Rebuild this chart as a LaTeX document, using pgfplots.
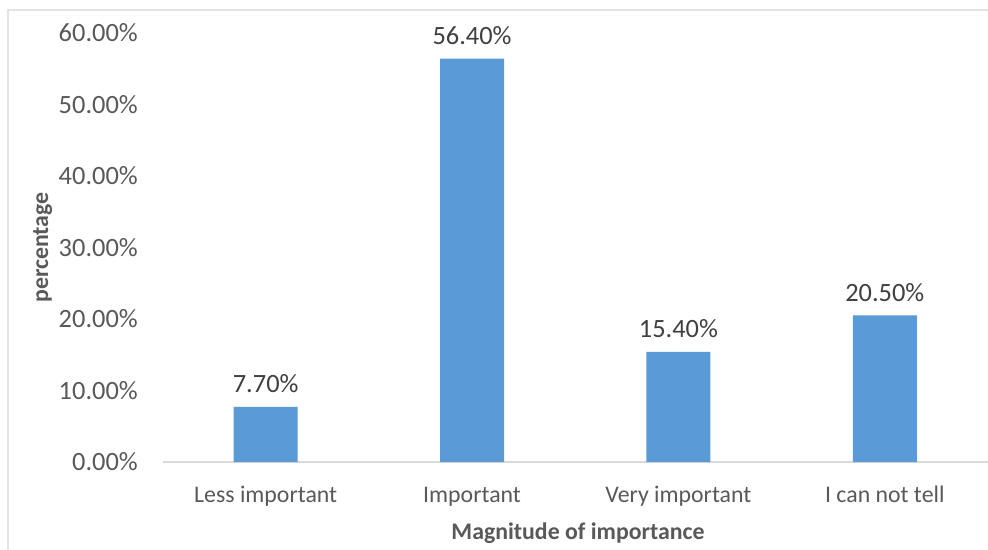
\documentclass[border=0pt]{standalone}
\usepackage{fontspec}
\setmainfont{Carlito}
\usepackage{pgfplots}
\pgfplotsset{compat=1.18}

\definecolor{barblue}{HTML}{5B9BD5}
\definecolor{axisgray}{HTML}{D9D9D9}
\definecolor{framegray}{HTML}{E3E3E3}
\definecolor{textgray}{HTML}{595959}
\definecolor{labelgray}{HTML}{404040}

\begin{document}
\begin{tikzpicture}
\useasboundingbox (0pt,0pt) rectangle (988pt,549pt);
\fill[white] (0pt,0pt) rectangle (988pt,549pt);
% chart frame
\draw[framegray, line width=1.5pt] (8pt,-10pt) -- (8pt,539pt) -- (1000pt,539pt);
\begin{axis}[
  at={(162.5pt,87pt)}, anchor=south west,
  scale only axis, width=825.5pt, height=429pt,
  ybar, clip=false,
  ymin=0, ymax=60, xmin=-0.5, xmax=3.5,
  ytick={0,10,20,30,40,50,60},
  xtick={0,1,2,3},
  xticklabels={Less important, Important, Very important, I can not tell},
  /pgf/number format/assume math mode=true,
  yticklabel={\pgfmathprintnumber[fixed,fixed zerofill,precision=2]{\tick}\%},
  major tick length=0pt,
  tick style={draw=none},
  axis x line*=bottom,
  axis y line*=left,
  x axis line style={-, draw=axisgray, line width=1.2pt},
  y axis line style={draw=none},
  yticklabel style={anchor=east, inner sep=0pt, xshift=-24.5pt,
    font=\fontsize{26.4}{30}\selectfont, text=textgray},
  xticklabel style={anchor=base, inner sep=0pt, yshift=-40pt,
    font=\fontsize{23.8}{28}\selectfont, text=textgray},
  xlabel={Magnitude of importance},
  ylabel={percentage},
  xlabel style={at={(axis description cs:0.5033,-0.1795)}, anchor=base,
    inner sep=0pt, font=\fontsize{23.8}{28}\selectfont\bfseries, text=textgray},
  ylabel style={at={(axis description cs:-0.1387,0.5)}, anchor=base, rotate=0,
    inner sep=0pt, font=\fontsize{23.8}{28}\selectfont\bfseries, text=textgray},
  nodes near coords={\pgfmathprintnumber[fixed,fixed zerofill,precision=2]{\pgfplotspointmeta}\%},
  every node near coord/.append style={anchor=base, inner sep=0pt, yshift=14pt,
    font=\fontsize{26.4}{30}\selectfont, text=labelgray},
]
\addplot[fill=barblue, draw=none, bar width=64pt]
  coordinates {(0,7.7) (1,56.4) (2,15.4) (3,20.5)};
\end{axis}
\end{tikzpicture}
\end{document}
